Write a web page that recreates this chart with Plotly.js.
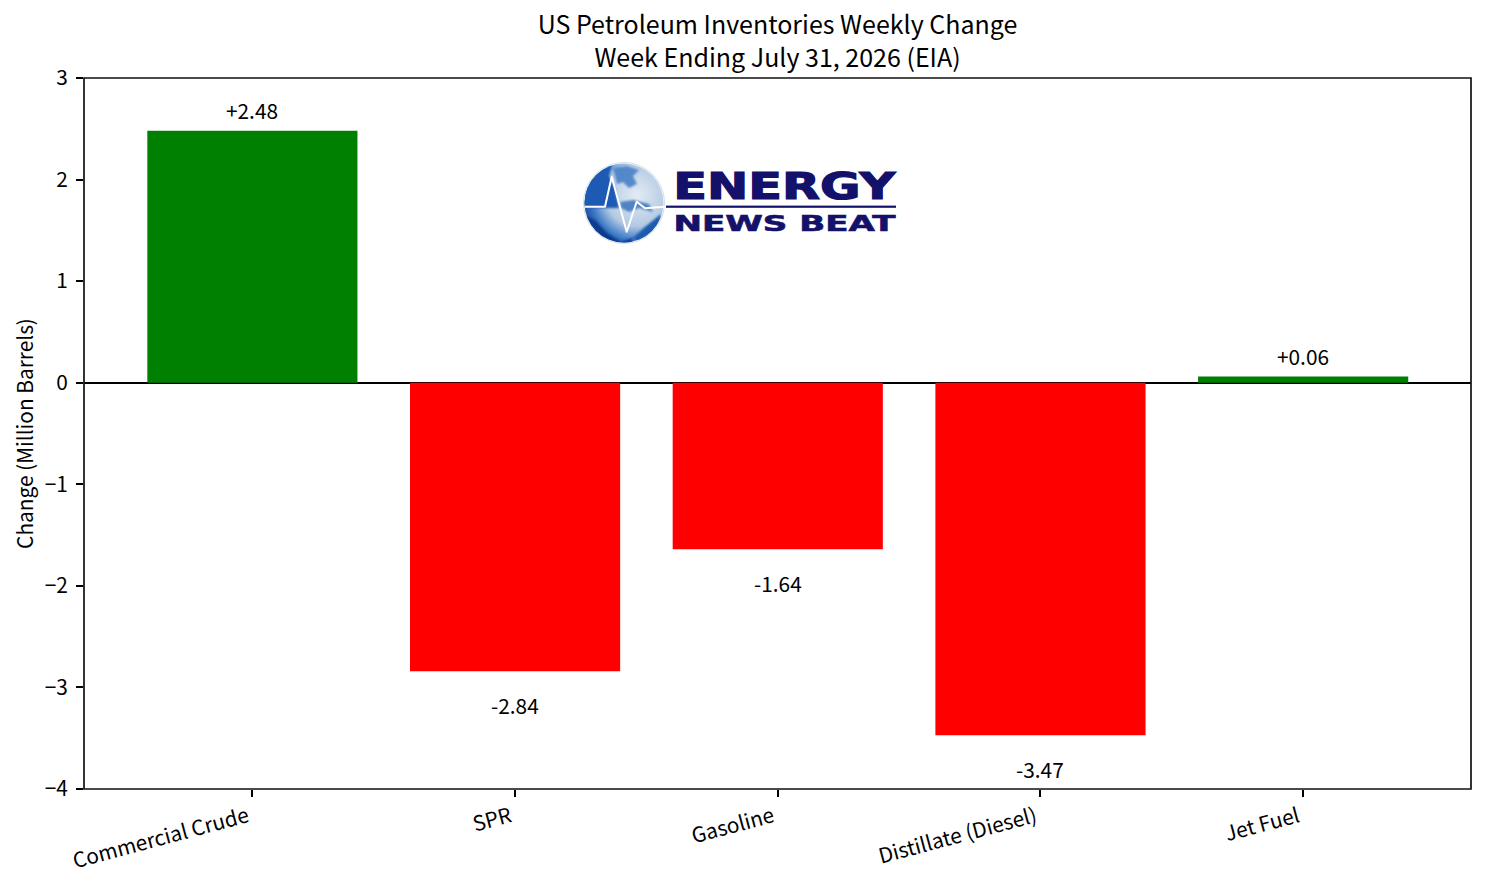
<!DOCTYPE html>
<html>
<head>
<meta charset="utf-8">
<script src="https://cdn.plot.ly/plotly-3.0.1.min.js"></script>
<style>html,body{margin:0;padding:0;background:#fff}</style>
</head>
<body>
<div id="chart" style="width:1485px;height:887px"></div>
<script>
// chart values
const categories = ['Commercial Crude','SPR','Gasoline','Distillate (Diesel)','Jet Fuel'];
const changes = [2.48,-2.84,-1.64,-3.47,0.06];
const yTicks = [-4,-3,-2,-1,0,1,2,3];

const FONT = '"Noto Sans CJK JP","Noto Sans",sans-serif';
const TEXT_SIZE = 20.83;
const W = 1485, H = 887;
const M = {l:84,r:14,t:78,b:98};
const plotW = W-M.l-M.r, plotH = H-M.t-M.b;
const px = x=>(x-M.l)/plotW;
const py = y=>(H-M.b-y)/plotH;

// logo artwork (the globe and rule), wording is added as annotations below
const logoSvg = `<svg xmlns="http://www.w3.org/2000/svg" width="942" height="246" viewBox="0 0 314 82">
<defs>
<radialGradient id="g" cx="0.66" cy="0.4" r="0.78">
<stop offset="0" stop-color="#e4ebf4"/><stop offset="0.5" stop-color="#b4cae3"/>
<stop offset="0.74" stop-color="#3a78c6"/><stop offset="1" stop-color="#0a2f7e"/>
</radialGradient>
<filter id="b" x="-10%" y="-10%" width="120%" height="120%"><feGaussianBlur stdDeviation="1.3"/></filter>
<clipPath id="c"><circle cx="41" cy="41" r="39.5"/></clipPath>
</defs>
<circle cx="41" cy="41" r="40.5" fill="#fff" stroke="#d4dce6" stroke-width="1"/>
<circle cx="41" cy="41" r="39.5" fill="url(#g)"/>
<g clip-path="url(#c)">
<g filter="url(#b)">
<path d="M-2 46 L-2 20 L14 4 L30 0 L26 14 L32 26 L36 46 Z" fill="#1b5ab4"/>
<path d="M30 6 L44 4 L56 8 L50 14 L54 22 L46 26 L40 20 L34 22 Z" fill="#3f7cc4" opacity="0.85"/>
<path d="M37 40 L50 38 L66 42 L70 50 L56 46 L46 50 L38 46 Z" fill="#3a74bb" opacity="0.85"/>
<path d="M-2 52 L12 58 L24 71 L38 80 L50 76 L46 86 L-2 86 Z" fill="#0b3a8e"/>
<path d="M62 65 L78 52 L76 70 L60 82 L50 76 Z" fill="#1f5cae"/>
</g>
</g>
<path d="M2 44.7 L22 44.7 L28.7 14.7 L43.7 69.7 L53.7 39.7 L62 46.3 L82 44.7" fill="none" stroke="#fff" stroke-width="2" stroke-linejoin="round"/>
<rect x="83" y="43.6" width="230" height="2.2" fill="#14116a"/>
</svg>`;

const valueNotes = changes.map((v,i)=>({
  x:i, y:v, xref:'x', yref:'y',
  text:(v>0?'+':'')+v.toFixed(2),
  showarrow:false, xanchor:'center', yanchor:'middle',
  yshift:v>0?20.5:-34,
  font:{family:FONT,size:TEXT_SIZE,color:'#000'}
}));

const logoNotes = [
  {x:px(784.5),y:py(186),xref:'paper',yref:'paper',text:'ENERGY',showarrow:false,xanchor:'center',yanchor:'middle',
   font:{family:'"DejaVu Sans"',size:37,color:'#14116a',weight:700}},
  {x:px(784.5),y:py(223.5),xref:'paper',yref:'paper',text:'NEWS BEAT',showarrow:false,xanchor:'center',yanchor:'middle',
   font:{family:'"DejaVu Sans"',size:21,color:'#14116a',weight:700}}
];

const trace = {
  type:'bar', x:categories.map((c,i)=>i), y:changes, width:0.8,
  marker:{color:changes.map(v=>v>=0?'#008000':'#ff0000'),line:{width:0}},
  hoverinfo:'skip'
};

const layout = {
  width:W, height:H,
  margin:M,
  paper_bgcolor:'#fff', plot_bgcolor:'#fff',
  showlegend:false,
  font:{family:FONT,size:TEXT_SIZE,color:'#000'},
  title:{text:'US Petroleum Inventories Weekly Change<br>Week Ending July 31, 2026 (EIA)',
    font:{family:FONT,size:25,color:'#000'},
    x:px(777.5), xanchor:'center', xref:'paper', y:1-34/H, yanchor:'top', yref:'container'},
  xaxis:{
    range:[-0.641,4.639], tickmode:'array', tickvals:categories.map((c,i)=>i), ticktext:categories,
    tickangle:-15, ticks:'outside', ticklen:7, tickwidth:1.5, tickcolor:'#000', ticklabelshift:-5,
    showline:false, showgrid:false, zeroline:false,
    tickfont:{family:FONT,size:TEXT_SIZE,color:'#000'}
  },
  yaxis:{
    range:[-4,3], tickmode:'array', tickvals:yTicks,
    ticks:'outside', ticklen:7, tickwidth:1.5, tickcolor:'#000', ticklabelstandoff:4,
    showline:false, showgrid:false,
    zeroline:true, zerolinecolor:'#000', zerolinewidth:1.5,
    tickfont:{family:FONT,size:TEXT_SIZE,color:'#000'},
    title:{text:'Change (Million Barrels)',font:{family:FONT,size:TEXT_SIZE,color:'#000'},standoff:5}
  },
  shapes:[{type:'rect',xref:'paper',yref:'paper',x0:0,x1:1,y0:0,y1:1,layer:'above',
    line:{color:'#111',width:1.7},fillcolor:'rgba(0,0,0,0)'}],
  images:[{
    source:'data:image/svg+xml;charset=utf-8,'+encodeURIComponent(logoSvg),
    xref:'paper', yref:'paper', x:px(583), y:py(162), sizex:314/plotW, sizey:82/plotH,
    sizing:'stretch', xanchor:'left', yanchor:'top', layer:'above'
  }],
  annotations:valueNotes.concat(logoNotes)
};

Plotly.newPlot('chart',[trace],layout,{displayModeBar:false}).then(()=>{
  // the logo wording is stretched wide and heavy like the original wordmark
  document.querySelectorAll('.annotation-text').forEach(t=>{
    const s = t.textContent;
    if(s==='ENERGY' || s==='NEWS BEAT'){
      t.setAttribute('textLength',222);
      t.setAttribute('lengthAdjust','spacingAndGlyphs');
      t.style.stroke = '#14116a';
      t.style.strokeWidth = s==='ENERGY'?'1.2px':'0.6px';
    }
  });
});
</script>
</body>
</html>
